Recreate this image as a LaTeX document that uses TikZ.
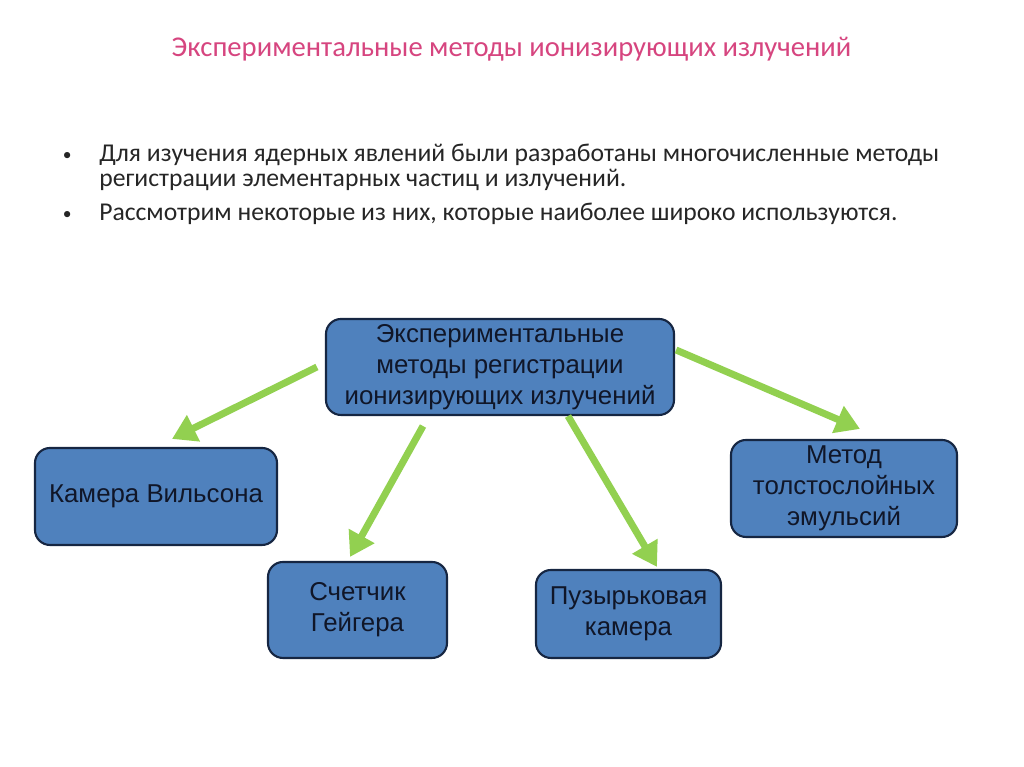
\documentclass[tikz,border=0pt]{standalone}
\usepackage{fontspec}
\setmainfont{Carlito}
\newfontfamily\boxfont{Liberation Sans}
\usetikzlibrary{arrows.meta}

\definecolor{titlepink}{RGB}{214,69,127}
\definecolor{bodygray}{RGB}{38,38,38}
\definecolor{boxblue}{RGB}{79,129,189}
\definecolor{boxedge}{RGB}{22,38,66}
\definecolor{boxtext}{RGB}{16,22,40}
\definecolor{arrgreen}{RGB}{146,208,80}

\tikzset{
    methodbox/.style={draw=boxedge,line width=1.2pt,fill=boxblue,rounded corners=0.3cm,
        align=center,text=boxtext,font=\boxfont\fontsize{14.7}{17.6}\selectfont,inner sep=0pt},
    greenarrow/.style={draw=arrgreen,line width=0.14cm,
        -{Triangle[length=0.48cm,width=0.56cm]}},
    bodyline/.style={anchor=base west,text=bodygray,font=\fontsize{14.6}{17}\selectfont,inner sep=0pt}
}

\begin{document}
\begin{tikzpicture}
        \useasboundingbox (0,0) rectangle (20.48,15.34);

        %%%%%%%% Titolo e testo %%%%%%%%%
        \node[text=titlepink,font=\fontsize{16.3}{19}\selectfont] (title) at (10.23,14.36)
            {Экспериментальные методы ионизирующих излучений};

        \node[bodyline,font=\fontsize{10}{12}\selectfont] (dot1) at (1.25,12.12) {•};
        \node[bodyline] (line1) at (1.98,12.1) {Для изучения ядерных явлений были разработаны многочисленные методы};
        \node[bodyline] (line2) at (1.98,11.6) {регистрации элементарных частиц и излучений.};
        \node[bodyline,font=\fontsize{10}{12}\selectfont] (dot2) at (1.25,10.94) {•};
        \node[bodyline] (line3) at (1.98,10.92) {Рассмотрим некоторые из них, которые наиболее широко используются.};

        %%%%%%%% Blocchi %%%%%%%%%
        \node[methodbox,minimum width=6.96cm,minimum height=1.92cm] (main) at (10.0,8.0)
            {Экспериментальные\\методы регистрации\\ионизирующих излучений};
        \node[methodbox,minimum width=4.84cm,minimum height=1.94cm] (wilson) at (3.12,5.41)
            {Камера Вильсона};
        \node[methodbox,minimum width=3.58cm,minimum height=1.92cm] (geiger) at (7.15,3.14)
            {Счетчик\\Гейгера};
        \node[methodbox,minimum width=3.7cm,minimum height=1.76cm] (bubble) at (12.57,3.06)
            {Пузырьковая\\камера};
        \node[methodbox,minimum width=4.52cm,minimum height=1.94cm] (emulsion) at (16.88,5.57)
            {Метод\\толстослойных\\эмульсий};

        %%%%%%%% Frecce %%%%%%%%%
        \draw[greenarrow] ([xshift=-0.16cm]main.west) -- ([shift={(0.32,0.16)}]wilson.north);
        \draw[greenarrow] ([shift={(-1.54,-0.2)}]main.south) -- ([shift={(-0.15,0.08)}]geiger.north);
        \draw[greenarrow] ([shift={(1.36,0)}]main.south) -- ([shift={(0.57,0.04)}]bubble.north);
        \draw[greenarrow] ([shift={(0.02,0.34)}]main.east) -- ([shift={(0.32,0.2)}]emulsion.north);

    \end{tikzpicture}
\end{document}
